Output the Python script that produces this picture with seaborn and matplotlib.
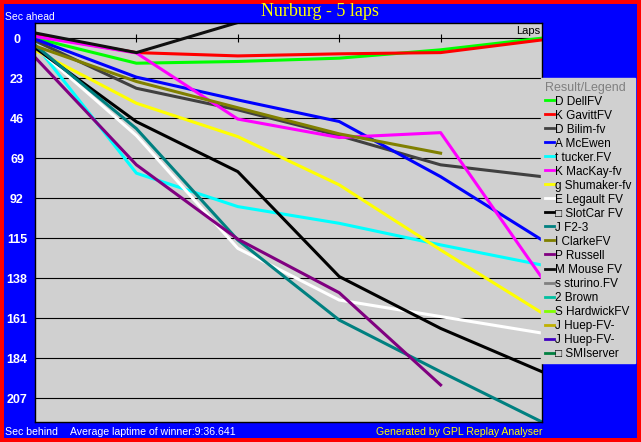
import pandas as pd
import matplotlib
matplotlib.use("Agg")
import matplotlib.pyplot as plt
import seaborn as sns
from matplotlib.lines import Line2D

plt.rcParams['font.family'] = ['Liberation Sans', 'DejaVu Sans']

laps = [0, 1, 2, 3, 4, 5]
yticks = [0, 23, 46, 69, 92, 115, 138, 161, 184, 207]

drivers = ["D DellFV", "K GavittFV", "D Bilim-fv", "A McEwen", "t tucker.FV",
           "K MacKay-fv", "g Shumaker-fv", "E Legault FV", "\u25a1 SlotCar FV", "J F2-3",
           "I ClarkeFV", "P Russell", "M Mouse FV", "s sturino.FV", "2 Brown",
           "S HardwickFV", "J Huep-FV-", "J Huep-FV-", "\u25a1 SMIserver"]
colors = ["#00FF00", "#FF0000", "#404040", "#0000FF", "#00FFFF",
          "#FF00FF", "#FFFF00", "#FFFFFF", "#000000", "#008080",
          "#808000", "#800080", "#101010", "#808080", "#00C0A0",
          "#80FF00", "#C0B000", "#4000C0", "#008040"]

# seconds behind the leader at the end of each lap (negative = ahead)
dell = [0.0, 14.4, 13.4, 11.5, 6.7, 0.0]
gavitt = [-1.5, 8.3, 10.2, 9.0, 8.3, 1.0]
bilim = [1.5, 28.8, 41.2, 56.0, 72.8, 79.6]
mcewen = [0.5, 22.4, 35.5, 47.9, 79.6, 116.0]
tucker = [3.5, 77.6, 96.8, 106.4, 118.8, 130.4]
mackay = [-1.0, 8.5, 46.5, 57.1, 54.3, 137.8]
shumaker = [7.0, 37.4, 56.6, 84.3, 121.7, 157.9]
legault = [5.0, 56.0, 120.8, 150.5, 160.0, 169.5]
slotcar = [5.5, 48.0, 76.7, 137.0, 166.8, 191.7]
f23 = [4.0, 52.0, 116.0, 162.0, 191.7, 220.6]
clarke = [4.5, 24.9, 40.0, 55.0, 66.1]
russell = [11.0, 72.8, 115.5, 146.3, 199.3]
mouse = [-3.0, 8.3, -9.0]
gaps = [dell, gavitt, bilim, mcewen, tucker, mackay, shumaker, legault,
        slotcar, f23, clarke, russell, mouse, [], [], [], [], [], []]

rows = []
for i, g in enumerate(gaps):
    for lap, v in zip(laps, g):
        rows.append({'drv': i, 'lap': lap, 'gap': v})
df = pd.DataFrame(rows)
used = sorted(df['drv'].unique())

fig = plt.figure(figsize=(6.41, 4.42), dpi=100)
fig.patch.set_facecolor('#0000FF')
fig.patch.set_edgecolor('#FF0000')
fig.patch.set_linewidth(4.4)
ax = fig.add_axes([35 / 641, 1 - 422 / 442, 507 / 641, 399.5 / 442])
ax.set_facecolor('#D0D0D0')

sns.lineplot(data=df, x='lap', y='gap', hue='drv', hue_order=used,
             palette={i: colors[i] for i in used}, estimator=None, sort=False,
             linewidth=2.2, legend=False, ax=ax)

ax.set_xlim(0, 5)
ax.set_ylim(220.6, -9.0)
ax.set_xticks([])
ax.set_yticks(yticks)
ax.set_yticklabels([str(t) for t in yticks], color='white', fontweight='bold',
                   fontsize=9, ha='center')
ax.tick_params(axis='y', length=0, pad=13)
ax.grid(axis='y', color='black', linewidth=0.8)
ax.set_axisbelow(True)
ax.set_xlabel('')
ax.set_ylabel('')
for s in ax.spines.values():
    s.set_color('black')
    s.set_linewidth(1)

# lap marks on the zero line
ax.plot(laps[1:5], [0] * 4, ls='none', marker='|', ms=6, mew=0.8, color='black')
ax.annotate('Laps', xy=(5, 0), xytext=(-1, 1.5), textcoords='offset points',
            ha='right', va='bottom', fontsize=8, color='black')

handles = [Line2D([], [], color=c, lw=2) for c in colors]
leg = ax.legend(handles, drivers, loc='upper left',
                bbox_to_anchor=(541 / 641, 1 - 78 / 442), bbox_transform=fig.transFigure,
                title='Result/Legend', frameon=True, fancybox=False,
                facecolor='#D0D0D0', edgecolor='#D0D0D0', framealpha=1,
                borderaxespad=0, borderpad=0.3, handlelength=0.8, handletextpad=0.1,
                labelspacing=0.17, fontsize=8.5, title_fontsize=9, alignment='left')
leg.get_title().set_color('#808080')

fig.text(320 / 641, 1 - 12 / 442, 'Nurburg - 5 laps', color='#FFFF00',
         family='Liberation Serif', fontsize=13, ha='center', va='center')
fig.text(5 / 641, 1 - 17 / 442, 'Sec ahead', color='white', fontsize=7.5, va='center')
fig.text(5 / 641, 1 - 432 / 442, 'Sec behind', color='white', fontsize=7.6, va='center')
fig.text(70 / 641, 1 - 432 / 442, 'Average laptime of winner:9:36.641', color='white',
         fontsize=7.6, va='center')
fig.text(542 / 641, 1 - 432 / 442, 'Generated by GPL Replay Analyser', color='#FFFF00',
         fontsize=7.6, va='center', ha='right')

fig.savefig('out.png', dpi=100)
